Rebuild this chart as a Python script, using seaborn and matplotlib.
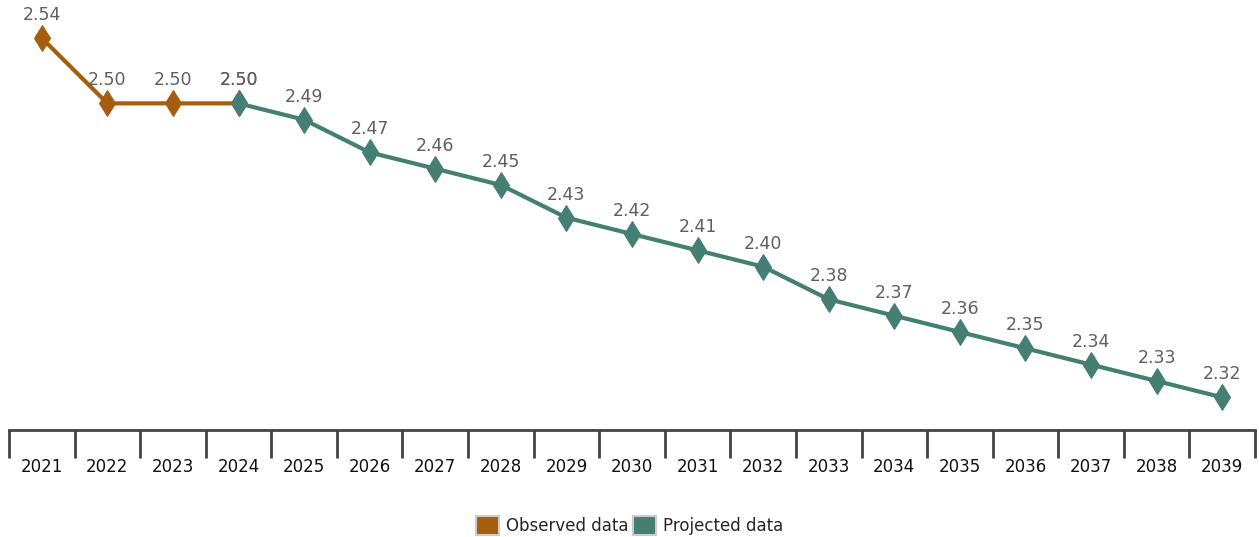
import matplotlib.pyplot as plt
import seaborn as sns
import pandas as pd
import numpy as np
from matplotlib.patches import Patch

years = [str(y) for y in range(2021, 2040)]
observed_years = ["2021", "2022", "2023", "2024"]
observed_values = [2.54, 2.50, 2.50, 2.50]
projected_years = ["2024", "2025", "2026", "2027", "2028", "2029", "2030", "2031",
                   "2032", "2033", "2034", "2035", "2036", "2037", "2038", "2039"]
projected_values = [2.50, 2.49, 2.47, 2.46, 2.45, 2.43, 2.42, 2.41,
                    2.40, 2.38, 2.37, 2.36, 2.35, 2.34, 2.33, 2.32]

OBS_COLOR = "#A65E0E"
PROJ_COLOR = "#457E72"
FONT = ["DejaVu Sans"]

sns.set_style("white")
plt.rcParams["font.family"] = FONT
plt.rcParams["font.sans-serif"] = FONT

obs = pd.DataFrame({"x": [years.index(y) for y in observed_years], "v": observed_values})
proj = pd.DataFrame({"x": [years.index(y) for y in projected_years], "v": projected_values})

fig = plt.figure(figsize=(12.59, 5.37), dpi=100)
ax = fig.add_axes([9 / 1259, 107 / 537, 1246 / 1259, 430 / 537])

sns.lineplot(data=obs, x="x", y="v", color=OBS_COLOR, lw=3, marker="d",
             markersize=13, markeredgecolor=OBS_COLOR, ax=ax, zorder=3)
sns.lineplot(data=proj, x="x", y="v", color=PROJ_COLOR, lw=3, marker="d",
             markersize=13, markeredgecolor=PROJ_COLOR, ax=ax, zorder=4)

for df in (obs, proj):
    for x, v in zip(df["x"], df["v"]):
        ax.annotate(f"{v:.2f}", (x, v), xytext=(0, 10), textcoords="offset points",
                    ha="center", va="bottom", fontsize=12.5, color="#5f5f5f",
                    family=FONT)

ax.set_xlim(-0.5, len(years) - 0.5)
ax.set_ylim(2.30, 2.5633)
ax.set_xticks(range(len(years)))
ax.set_xticklabels(years, fontsize=12, color="#111111", family=FONT)
ax.set_xticks(np.arange(-0.5, len(years)), minor=True)
ax.tick_params(axis="x", which="major", bottom=False, length=0, pad=20)
ax.tick_params(axis="x", which="minor", bottom=True, length=20, width=2,
               color="#444444", direction="out")
ax.set_yticks([])
ax.set_xlabel("")
ax.set_ylabel("")
for s in ["top", "right", "left"]:
    ax.spines[s].set_visible(False)
ax.spines["bottom"].set_color("#444444")
ax.spines["bottom"].set_linewidth(2)

handles = [Patch(facecolor=OBS_COLOR, edgecolor="#cccccc", lw=1.5, label="Observed data"),
           Patch(facecolor=PROJ_COLOR, edgecolor="#cccccc", lw=1.5, label="Projected data")]
fig.legend(handles=handles, loc="lower center", bbox_to_anchor=(0.5, -0.025), ncol=2,
           frameon=False, prop={"family": FONT, "size": 12}, handlelength=1.4,
           handleheight=1.4, handletextpad=0.4, columnspacing=0.3)

plt.savefig("out.png", dpi=100)
